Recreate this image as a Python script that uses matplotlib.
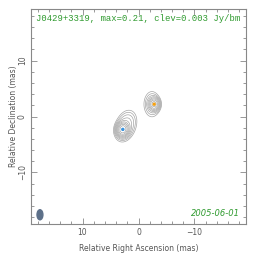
import numpy as np
import matplotlib
matplotlib.use("Agg")
import matplotlib.pyplot as plt
from matplotlib.patches import Ellipse

# model components: RA offset, Dec offset (mas), peak (Jy/bm), sigma_x, sigma_y (mas), angle (deg)
comp_ra = [2.8, 2.3, -2.8, -2.4]
comp_dec = [-2.3, -1.7, 2.2, 2.2]
comp_peak = [0.20, 0.02, 0.10, 0.012]
comp_sx = [0.5, 0.95, 0.45, 0.85]
comp_sy = [0.6, 1.5, 0.55, 1.35]
comp_pa = [-10, -20, 0, 0]

# fitted component markers
mark_ra = [2.8, -2.8]
mark_dec = [-2.3, 2.2]
mark_colors = ["#3a94e0", "#f5a010"]

beam_ra, beam_dec = 17.6, -17.55
beam_w, beam_h = 1.05, 1.8

title = "J0429+3319, max=0.21, clev=0.003 Jy/bm"
date = "2005-06-01"
clev = 0.003
vmax = 0.21

lim = 19.2
x = np.linspace(-lim, lim, 500)
y = np.linspace(-lim, lim, 500)
X, Y = np.meshgrid(x, y)
Z = np.zeros_like(X)
for ra, dec, pk, sx, sy, pa in zip(comp_ra, comp_dec, comp_peak, comp_sx, comp_sy, comp_pa):
    t = np.radians(pa)
    dx = X - ra
    dy = Y - dec
    u = dx * np.cos(t) - dy * np.sin(t)
    v = dx * np.sin(t) + dy * np.cos(t)
    Z += pk * np.exp(-0.5 * ((u / sx) ** 2 + (v / sy) ** 2))

levels = clev * 1.6 ** np.arange(0, 12)
levels = levels[levels < vmax]

fig = plt.figure(figsize=(2.64, 2.62), dpi=100)
ax = fig.add_axes([31 / 264, 38 / 262, 215 / 264, 215 / 262])
ax.contour(X, Y, Z, levels=levels, colors="#a5a5a5", linewidths=0.5)
ax.scatter(mark_ra, mark_dec, c=mark_colors, s=6, zorder=3, linewidths=0)
ax.add_patch(Ellipse((beam_ra, beam_dec), beam_w, beam_h, color="#5d7089"))

ax.set_xlim(lim, -lim)
ax.set_ylim(-lim, lim)
ax.set_aspect("auto")
ax.set_xticks([10, 0, -10])
ax.set_yticks([-10, 0, 10])
ax.set_xticks(np.arange(-18, 19, 2), minor=True)
ax.set_yticks(np.arange(-18, 19, 2), minor=True)
ax.set_xticklabels(["10", "0", "\u221210"])
ax.set_yticklabels(["\u221210", "0", "10"], rotation=90, va="center")
ax.tick_params(which="both", direction="in", top=True, right=True, colors="#888888",
               labelcolor="#555555", labelsize=5.5, width=0.6)
ax.tick_params(which="major", length=4, pad=3)
ax.tick_params(which="minor", length=2)
for s in ax.spines.values():
    s.set_color("#888888")
    s.set_linewidth(0.8)

ax.set_xlabel("Relative Right Ascension (mas)", fontsize=5.5, color="#555555", labelpad=5)
ax.set_ylabel("Relative Declination (mas)", fontsize=5.5, color="#555555", labelpad=0)

ax.text(0.5, 0.955, title, transform=ax.transAxes, ha="center", va="center",
        family="Liberation Mono", fontsize=6.4, color="#2e9a2e")
ax.text(0.97, 0.05, date, transform=ax.transAxes, ha="right", va="center",
        fontsize=6, style="italic", color="#2e9a2e")

fig.savefig("out.png", dpi=100, facecolor="white")
